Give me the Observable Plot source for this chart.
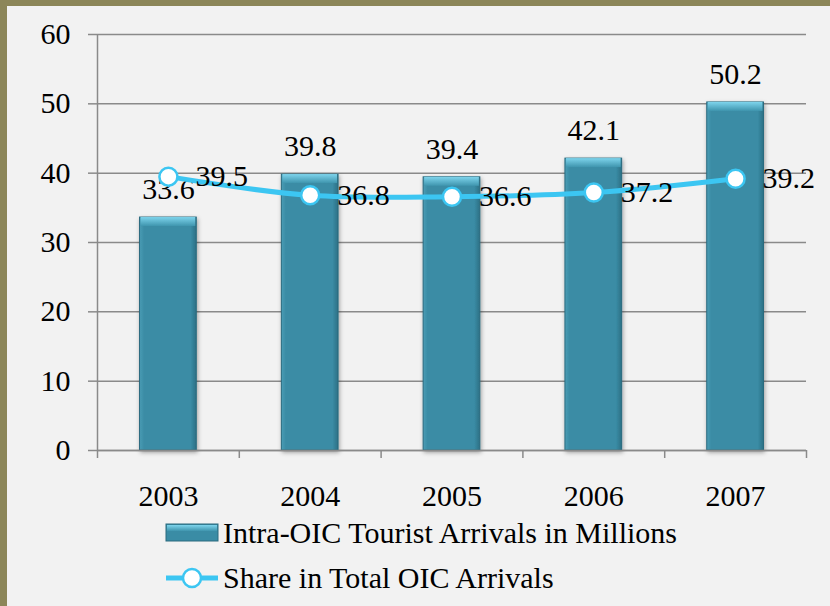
<!DOCTYPE html>
<html>
<head>
<meta charset="utf-8">
<script src="https://cdn.jsdelivr.net/npm/d3@7"></script>
<script src="https://cdn.jsdelivr.net/npm/@observablehq/plot@0.6"></script>
<style>
  html, body { margin: 0; padding: 0; }
  body { width: 830px; height: 606px; background: #8C8659; position: relative; overflow: hidden; }
  #chart { position: absolute; left: 7px; top: 6px; width: 823px; height: 600px; background: #F2F2F2; font-family: "Liberation Serif", "DejaVu Serif", serif; }
  #chart svg.plot { position: absolute; left: 0; top: 0; }
  .legend { position: absolute; left: 158px; font-size: 30px; line-height: 34px; height: 34px; color: #000; display: flex; align-items: center; white-space: nowrap; }
  .legend svg { display: block; margin-right: 4px; }
</style>
</head>
<body>
<div id="chart"></div>
<script>
const years = [2003, 2004, 2005, 2006, 2007];
const arrivals = [33.6, 39.8, 39.4, 42.1, 50.2];
const share = [39.5, 36.8, 36.6, 37.2, 39.2];
const yTicks = [0, 10, 20, 30, 40, 50, 60];
const xDomain = [2002.5, 2007.5];
const xBoundaries = [2002.5, 2003.5, 2004.5, 2005.5, 2006.5, 2007.5];
const barHalf = 0.2;
const seriesNames = ["Intra-OIC Tourist Arrivals in Millions", "Share in Total OIC Arrivals"];

const data = years.map((y, i) => ({year: y, arrivals: arrivals[i], share: share[i]}));

const barColor = "#3A8CA5";
const lineColor = "#3CC6F2";
const font = "Liberation Serif, DejaVu Serif, serif";
const fs = 30;

const plot = Plot.plot({
  width: 823,
  height: 505,
  marginLeft: 90,
  marginRight: 24,
  marginTop: 28,
  marginBottom: 61,
  style: {background: "transparent", fontFamily: font, fontSize: fs + "px", color: "#000", overflow: "visible"},
  x: {type: "linear", domain: xDomain},
  y: {domain: [0, 60]},
  marks: [
    Plot.gridY(yTicks, {stroke: "#8A8A8A", strokeOpacity: 1, strokeWidth: 1.5}),
    Plot.ruleX([xDomain[0]], {stroke: "#8A8A8A", strokeWidth: 1.5}),
    Plot.axisY({ticks: yTicks, tickSize: 9, tickPadding: 18, stroke: "#8A8A8A", strokeWidth: 1.5, fontSize: fs, fill: "#000", label: null}),
    Plot.axisX({ticks: xBoundaries, tickSize: 8, tickFormat: () => "", stroke: "#8A8A8A", strokeWidth: 1.5, label: null}),
    Plot.axisX({ticks: years, tickSize: 0, tickPadding: 34, tickFormat: d => String(d), fontSize: fs, fill: "#000", label: null}),
    Plot.rectY(data, {x1: d => d.year - barHalf, x2: d => d.year + barHalf, y: "arrivals", fill: "url(#barGrad)", stroke: "#2A6A7E", strokeWidth: 1}),
    Plot.rectY(data, {x1: d => d.year - barHalf, x2: d => d.year + barHalf, y1: "arrivals", y2: "arrivals", insetBottom: -9, insetLeft: 1, insetRight: 1, fill: "url(#bevelGrad)"}),
    Plot.ruleY([0], {stroke: "#8A8A8A", strokeWidth: 1.5}),
    Plot.text(data, {x: "year", y: "arrivals", text: d => d.arrivals.toFixed(1), dy: -28, fontSize: fs, fill: "#000"}),
    Plot.line(data, {x: "year", y: "share", stroke: lineColor, strokeWidth: 5, curve: "catmull-rom"}),
    Plot.dot(data, {x: "year", y: "share", r: 9, fill: "white", stroke: lineColor, strokeWidth: 2.5}),
    Plot.text(data, {x: "year", y: "share", text: d => d.share.toFixed(1), dx: 27, dy: 0, textAnchor: "start", fontSize: fs, fill: "#000"})
  ]
});
plot.classList.add("plot");

// gradients for the bars
const svg = d3.select(plot);
const defs = svg.insert("defs", ":first-child");
const g1 = defs.append("linearGradient").attr("id", "barGrad").attr("x1", 0).attr("x2", 1).attr("y1", 0).attr("y2", 0);
g1.append("stop").attr("offset", "0%").attr("stop-color", "#4B9DB5");
g1.append("stop").attr("offset", "8%").attr("stop-color", "#3A8CA5");
g1.append("stop").attr("offset", "90%").attr("stop-color", "#3A8CA5");
g1.append("stop").attr("offset", "100%").attr("stop-color", "#2C7085");
const g2 = defs.append("linearGradient").attr("id", "bevelGrad").attr("x1", 0).attr("x2", 0).attr("y1", 0).attr("y2", 1);
g2.append("stop").attr("offset", "0%").attr("stop-color", "#7ED4EC");
g2.append("stop").attr("offset", "100%").attr("stop-color", "#3F95AE");
const f = defs.append("filter").attr("id", "shadow").attr("x", "-20%").attr("y", "-5%").attr("width", "140%").attr("height", "115%");
f.append("feDropShadow").attr("dx", 1).attr("dy", 2).attr("stdDeviation", 2).attr("flood-color", "#000").attr("flood-opacity", 0.35);
svg.selectAll("g[aria-label='rect']").filter((d, i) => i === 0).attr("filter", "url(#shadow)");

const chart = document.getElementById("chart");
chart.appendChild(plot);

// legend
const leg1 = document.createElement("div");
leg1.className = "legend";
leg1.style.top = "510px";
leg1.innerHTML = `<svg width="54" height="20"><defs><linearGradient id="lg1" x1="0" x2="0" y1="0" y2="1"><stop offset="0%" stop-color="#7ED4EC"/><stop offset="100%" stop-color="#3F95AE"/></linearGradient></defs><rect x="1" y="1" width="52" height="17" fill="${barColor}" stroke="#2A6A7E"/><rect x="2" y="2" width="50" height="6" fill="url(#lg1)"/></svg><span>${seriesNames[0]}</span>`;
chart.appendChild(leg1);
const leg2 = document.createElement("div");
leg2.className = "legend";
leg2.style.top = "555px";
leg2.innerHTML = `<svg width="54" height="24"><line x1="1" x2="53" y1="12" y2="12" stroke="${lineColor}" stroke-width="5"/><circle cx="27" cy="12" r="9" fill="white" stroke="${lineColor}" stroke-width="2.5"/></svg><span>${seriesNames[1]}</span>`;
chart.appendChild(leg2);
</script>
</body>
</html>
